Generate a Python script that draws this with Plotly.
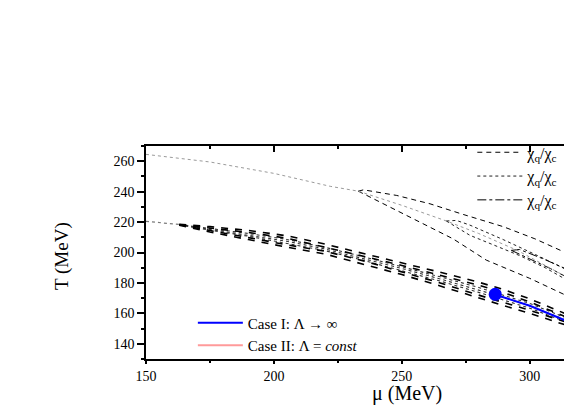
import plotly.graph_objects as go

# band of crossover curves (mu in MeV, T in MeV)
mu_band = [163, 175, 190, 205, 220, 235, 250, 265, 280, 290, 300, 316.5]
t_up_a = [218.5, 217, 214.5, 211, 205.5, 199.5, 193.5, 187, 180.5, 175.5, 169.5, 158]
t_up_b = [218.3, 216.2, 213.2, 209.4, 203.7, 197.5, 191.5, 185, 178.5, 173.5, 167.5, 156]
t_lo_a = [218, 213.5, 208.5, 203.5, 199, 192.5, 185.5, 178, 170, 165, 160, 151]
t_lo_b = [218.2, 214.3, 209.8, 205.1, 200.8, 194.5, 187.5, 180, 172, 167, 162, 153]
t_dot_1 = [218.4, 215.8, 212.5, 208.6, 203.4, 197.2, 190.8, 184, 177, 172, 166.5, 155.5]
t_dot_2 = [218.3, 215.2, 211.6, 207.4, 202.3, 196, 189.5, 182.6, 175.4, 170.4, 164.9, 154]
t_dot_3 = [218.2, 214.6, 210.7, 206.2, 201.2, 194.8, 188.2, 181.2, 173.8, 168.8, 163.4, 152.8]

# short gray dotted start of the band
mu_start = [150, 163]
t_start = [220.5, 218.4]

# upper gray dotted line
mu_gray = [150, 175, 200, 222, 233, 250, 267.4, 280, 295, 316.5]
t_gray = [264.5, 259.5, 252, 243.5, 240.3, 231, 220.7, 212.5, 201.5, 182]

# lobes (upper / lower branches)
mu_l1_up = [233, 235, 248, 261, 274, 289.6, 302, 316.5]
t_l1_up = [240.3, 241.2, 237.5, 232, 225, 217, 209, 198]
mu_l1_lo = [233, 239, 250, 258.3, 270, 283, 300, 316.5]
t_l1_lo = [240.3, 235.3, 226, 219, 209, 195, 183, 170]

mu_l2_up = [267.4, 271.3, 276.6, 289.6, 303, 316.5]
t_l2_up = [220.7, 221.1, 218, 208.5, 198, 187]
mu_l2_lo = [267.4, 276.6, 296, 306, 316.5]
t_l2_lo = [220.7, 211.3, 198, 190, 180]

mu_l3_up = [292.8, 296, 305, 316.5]
t_l3_up = [201.4, 202, 196, 187.5]
mu_l3_lo = [292.8, 300, 308, 316.5]
t_l3_lo = [201.4, 196, 189.5, 182]

# case I line and critical end point
mu_case1 = [287, 300, 316.5]
t_case1 = [172, 165, 153.5]
mu_cep = [286.5]
t_cep = [172.5]

SERIF = "Liberation Serif"

fig = go.Figure()

def line(x, y, dash, width=1, color="black", xaxis="x", **kw):
    fig.add_trace(go.Scatter(x=x, y=y, mode="lines", xaxis=xaxis,
                             line={"color": color, "dash": dash, "width": width},
                             hoverinfo="skip", **kw))

# gray dotted lines
line(mu_gray, t_gray, "dot", 1, "#9a9a9a", xaxis="x2", showlegend=False)
line(mu_start, t_start, "dot", 1.2, "#7a7a7a", showlegend=False)

# band
for tt in (t_dot_1, t_dot_2, t_dot_3):
    line(mu_band, tt, "dot", 1.1, "#333333", showlegend=False)
for tt in (t_up_a, t_up_b, t_lo_a, t_lo_b):
    line(mu_band, tt, "7px,7px", 1.6, showlegend=False)

# lobes with legend entries
chi = "χ<sub>q</sub>/χ<sub>c</sub>"
line(mu_l1_up, t_l1_up, "5px,4px", 1, name=chi, legend="legend")
line(mu_l1_lo, t_l1_lo, "5px,4px", 1, showlegend=False)
line(mu_l2_up, t_l2_up, "dot", 1, "#222222", name=chi, legend="legend")
line(mu_l2_lo, t_l2_lo, "dot", 1, "#222222", showlegend=False)
line(mu_l3_up, t_l3_up, "dashdot", 1, name=chi, legend="legend")
line(mu_l3_lo, t_l3_lo, "dashdot", 1, showlegend=False)

# case I / case II
line(mu_case1, t_case1, "solid", 2, "#0000ff", name="Case I: Λ → ∞", legend="legend2")
line([None], [None], "solid", 2, "#ff9a9a", name="Case II: Λ = <i>const</i>", legend="legend2")
fig.add_trace(go.Scatter(x=mu_cep, y=t_cep, mode="markers", showlegend=False,
                         marker={"color": "#0000ff", "size": 13}, hoverinfo="skip"))

# axis titles
fig.add_annotation(x=0.613, y=-0.16, xref="paper", yref="paper", text="μ (MeV)",
                   xanchor="center", yanchor="middle", showarrow=False,
                   font={"family": SERIF, "size": 20, "color": "black"})
fig.add_annotation(x=-0.197, y=0.484, xref="paper", yref="paper", text="T (MeV)",
                   xanchor="center", yanchor="middle", textangle=-90, showarrow=False,
                   font={"family": SERIF, "size": 19, "color": "black"})

axis_common = dict(showgrid=False, zeroline=False, showline=True, linecolor="black",
                   linewidth=1.5, tickcolor="black", tickwidth=1.5,
                   tickfont={"family": SERIF, "size": 14, "color": "black"})

# page has an 8px body margin, so the figure is 8px smaller than the window
fig.update_layout(
    width=564, height=401,
    margin={"l": 138, "r": 0, "t": 138, "b": 50, "autoexpand": False},
    paper_bgcolor="white", plot_bgcolor="white",
    xaxis=dict(range=[150, 316.5], tick0=150, dtick=50, ticks="outside", ticklen=3,
               minor=dict(dtick=25, ticks="outside", ticklen=2, tickcolor="black"),
               **axis_common),
    xaxis2=dict(range=[150, 316.5], overlaying="x", side="top", tick0=150, dtick=50,
                ticks="inside", ticklen=6, showticklabels=False,
                minor=dict(dtick=25, ticks="inside", ticklen=3, tickcolor="black"),
                **axis_common),
    yaxis=dict(range=[130, 270], tick0=140, dtick=20, ticks="outside", ticklen=7,
               minor=dict(dtick=10, ticks="outside", ticklen=3, tickcolor="black"),
               **axis_common),
    legend=dict(x=0.766, y=1.05, xanchor="left", yanchor="top", bgcolor="rgba(0,0,0,0)",
                font={"family": SERIF, "size": 16, "color": "black"}, itemwidth=45,
                tracegroupgap=0),
    legend2=dict(x=0.11, y=0.246, xanchor="left", yanchor="top", bgcolor="rgba(0,0,0,0)",
                 font={"family": SERIF, "size": 15, "color": "black"}, itemwidth=45),
    showlegend=True,
)

fig.write_html("out.html")
